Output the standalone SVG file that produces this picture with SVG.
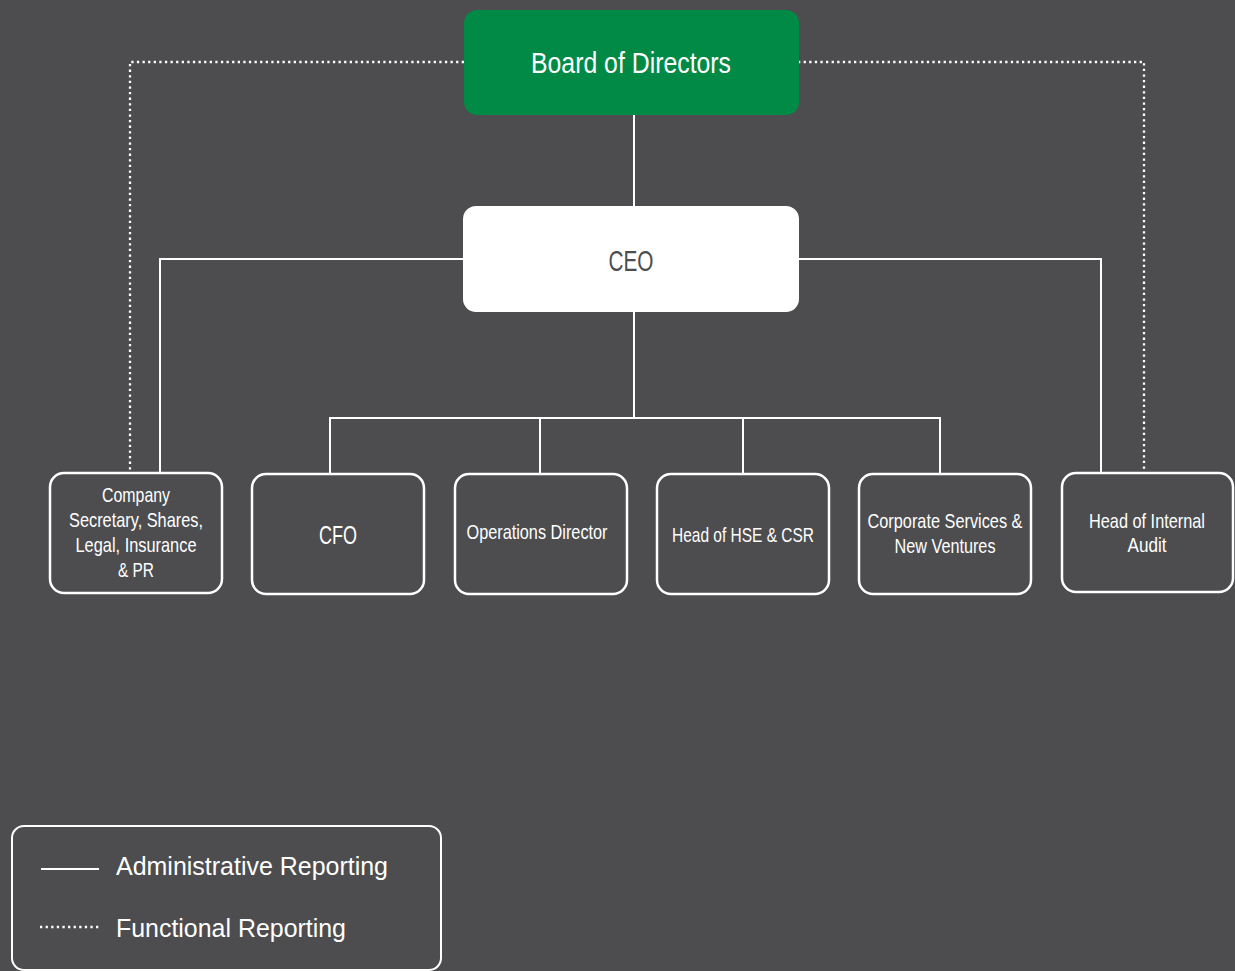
<svg xmlns="http://www.w3.org/2000/svg" width="1235" height="971" viewBox="0 0 1235 971">
<style>
.bg{fill:#4d4d4f}
.box{fill:none;stroke:#ffffff;stroke-width:2.5}
.t{font-family:"Liberation Sans",Arial,sans-serif;fill:#ffffff;text-anchor:middle}
.s{font-size:21px}
.solid{stroke:#ffffff;stroke-width:2;fill:none}
.dot{stroke:#ffffff;stroke-width:2.3;fill:none;stroke-dasharray:2.3 3.3}
.leg{font-family:"Liberation Sans",Arial,sans-serif;fill:#ffffff;font-size:25px}
</style>
<rect class="bg" x="0" y="0" width="1235" height="971"/>
<g id="connectors">
  <polyline class="dot" points="464,62 130,62 130,473"/>
  <polyline class="dot" points="798,62 1144,62 1144,473"/>
  <line class="solid" x1="634" y1="115" x2="634" y2="206"/>
  <polyline class="solid" points="463,259 160,259 160,473"/>
  <polyline class="solid" points="799,259 1101,259 1101,473"/>
  <line class="solid" x1="634" y1="312" x2="634" y2="418"/>
  <line class="solid" x1="329" y1="418" x2="941" y2="418"/>
  <line class="solid" x1="330" y1="418" x2="330" y2="474"/>
  <line class="solid" x1="540" y1="418" x2="540" y2="474"/>
  <line class="solid" x1="743" y1="418" x2="743" y2="474"/>
  <line class="solid" x1="940" y1="418" x2="940" y2="474"/>
</g>
<g id="board">
  <rect x="464" y="10" width="335" height="105" rx="13" fill="#008a45"/>
  <text class="t" x="631" y="73" font-size="29" textLength="200" lengthAdjust="spacingAndGlyphs">Board of Directors</text>
</g>
<g id="ceo">
  <rect x="463" y="206" width="336" height="106" rx="13" fill="#ffffff"/>
  <text class="t" x="631" y="271" font-size="30" style="fill:#4d4d4f" textLength="45" lengthAdjust="spacingAndGlyphs">CEO</text>
</g>
<g id="company-secretary">
  <rect class="box" x="50" y="473" width="172" height="120" rx="14"/>
  <text class="t s" x="136" y="502" textLength="68" lengthAdjust="spacingAndGlyphs">Company</text>
  <text class="t s" x="136" y="527" textLength="134" lengthAdjust="spacingAndGlyphs">Secretary, Shares,</text>
  <text class="t s" x="136" y="552" textLength="121" lengthAdjust="spacingAndGlyphs">Legal, Insurance</text>
  <text class="t s" x="136" y="577" textLength="36" lengthAdjust="spacingAndGlyphs">&amp; PR</text>
</g>
<g id="cfo">
  <rect class="box" x="252" y="474" width="172" height="120" rx="14"/>
  <text class="t" x="338" y="544" font-size="26" textLength="38" lengthAdjust="spacingAndGlyphs">CFO</text>
</g>
<g id="operations-director">
  <rect class="box" x="455" y="474" width="172" height="120" rx="14"/>
  <text class="t s" x="537" y="539" textLength="141" lengthAdjust="spacingAndGlyphs">Operations Director</text>
</g>
<g id="head-hse-csr">
  <rect class="box" x="657" y="474" width="172" height="120" rx="14"/>
  <text class="t s" x="743" y="542" textLength="142" lengthAdjust="spacingAndGlyphs">Head of HSE &amp; CSR</text>
</g>
<g id="corporate-services">
  <rect class="box" x="859" y="474" width="172" height="120" rx="14"/>
  <text class="t s" x="945" y="528" textLength="155" lengthAdjust="spacingAndGlyphs">Corporate Services &amp;</text>
  <text class="t s" x="945" y="553" textLength="101" lengthAdjust="spacingAndGlyphs">New Ventures</text>
</g>
<g id="head-internal-audit">
  <rect class="box" x="1062" y="473" width="171" height="119" rx="14"/>
  <text class="t s" x="1147" y="528" textLength="116" lengthAdjust="spacingAndGlyphs">Head of Internal</text>
  <text class="t s" x="1147" y="552" textLength="39" lengthAdjust="spacingAndGlyphs">Audit</text>
</g>
<g id="legend">
  <rect class="box" x="12" y="826" width="429" height="144" rx="12" style="stroke-width:2"/>
  <line class="solid" x1="41" y1="869" x2="99" y2="869"/>
  <text class="leg" x="116" y="875" textLength="272" lengthAdjust="spacingAndGlyphs">Administrative Reporting</text>
  <line class="dot" x1="40" y1="927" x2="101" y2="927"/>
  <text class="leg" x="116" y="937" textLength="230" lengthAdjust="spacingAndGlyphs">Functional Reporting</text>
</g>
</svg>
